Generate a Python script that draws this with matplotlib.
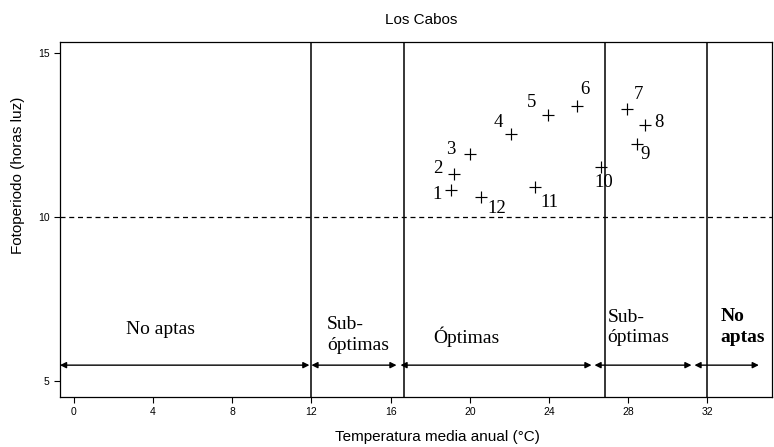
import matplotlib
matplotlib.use("Agg")
import matplotlib.pyplot as plt

# Data
labels = ["1", "2", "3", "4", "5", "6", "7", "8", "9", "10", "11", "12"]
temp = [19.07, 19.2, 20.0, 22.07, 23.94, 25.4, 27.93, 28.87, 28.47, 26.63, 23.28, 20.59]
foto = [10.82, 11.31, 11.91, 12.52, 13.1, 13.38, 13.29, 12.81, 12.22, 11.53, 10.9, 10.6]
# label offsets in points (dx, dy)
offsets = [(-10, -3.6), (-11.5, 3.6), (-13.4, 3.6), (-9.1, 8.6), (-11.5, 9.1), (6, 11.5),
           (8.4, 10), (9.6, 1.4), (5.3, -7.9), (1.9, -11.5), (10.3, -11), (10.8, -8.6)]

xticks = [0, 4, 8, 12, 16, 20, 24, 28, 32]
yticks = [5, 10, 15]
boundaries = [12, 16.7, 26.85, 32]
arrow_y = 5.47
arrow_segments = [(-0.7, 11.9), (12.0, 16.3), (16.5, 26.15), (26.3, 31.2), (31.35, 34.6)]
zone_texts = [
    (4.4, 6.55, "No aptas", "center", "normal"),
    (12.8, 6.4, "Sub-\nóptimas", "left", "normal"),
    (19.85, 6.34, "Óptimas", "center", "normal"),
    (26.95, 6.62, "Sub-\nóptimas", "left", "normal"),
    (32.65, 6.63, "No\naptas", "left", "bold"),
]

fig = plt.figure(figsize=(7.74, 4.47), dpi=100)
ax = fig.add_axes([0.0775, 0.112, 0.9195, 0.794])
ax.set_xlim(-0.7, 35.25)
ax.set_ylim(4.5, 15.33)

sans = ["Liberation Sans", "DejaVu Sans"]
serif = ["Liberation Serif", "DejaVu Serif"]

ax.axhline(10, color="black", ls=(0, (4, 3)), lw=0.9)
for b in boundaries:
    ax.axvline(b, color="black", lw=1.1)

ax.scatter(temp, foto, marker="+", s=85, color="black", linewidths=0.85, zorder=3)
for lab, x, y, (dx, dy) in zip(labels, temp, foto, offsets):
    ax.annotate(lab, (x, y), xytext=(dx, dy), textcoords="offset points",
                ha="center", va="center", fontsize=13.5, family=serif)

for a, b in arrow_segments:
    ax.annotate("", xy=(b, arrow_y), xytext=(a, arrow_y),
                arrowprops=dict(arrowstyle="<|-|>", color="black", lw=1.0,
                                mutation_scale=9, shrinkA=0, shrinkB=0))

for x, y, t, ha, w in zone_texts:
    ax.text(x, y, t, ha=ha, va="center", fontsize=14, family=serif,
            fontweight=w, linespacing=1.3)

ax.set_xticks(xticks)
ax.set_yticks(yticks)
ax.tick_params(labelsize=7.5, length=4, width=0.8)
for lbl in ax.get_xticklabels() + ax.get_yticklabels():
    lbl.set_family(sans)
for s in ax.spines.values():
    s.set_linewidth(0.9)

fig.text(437.5 / 774, 1 - 437 / 447, "Temperatura media anual (°C)", fontsize=11,
         family=sans, ha="center", va="center")
fig.text(18 / 774, 1 - 175 / 447, "Fotoperiodo (horas luz)", fontsize=11,
         family=sans, ha="center", va="center", rotation=90)
fig.text(421 / 774, 1 - 20 / 447, "Los Cabos", fontsize=11, family=sans,
         ha="center", va="center")

fig.savefig("out.png", dpi=100)
